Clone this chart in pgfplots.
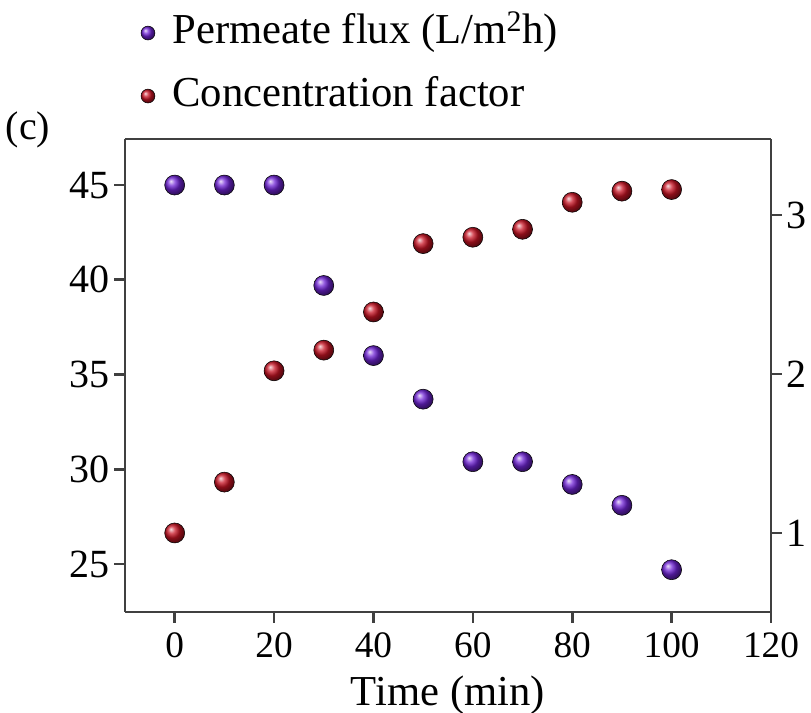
\documentclass[border=0pt]{standalone}
\usepackage{fontspec}
\setmainfont{Liberation Serif}
\usepackage{pgfplots}
\pgfplotsset{compat=1.18}
\usetikzlibrary{shadings}

\definecolor{fluxc}{RGB}{112,36,214}
\definecolor{cfc}{RGB}{200,20,36}

\newcommand{\yfont}{\fontsize{30}{35}\selectfont}
\newcommand{\xfont}{\fontsize{28}{33}\selectfont}
\newcommand{\lfont}{\fontsize{32}{38}\selectfont}

\pgfplotsset{
  common/.style={
    scale only axis,
    width=484.5pt, height=354.75pt,
    xmin=-10, xmax=120,
    clip=false,
    separate axis lines,
    every outer x axis line/.append style={draw=darkgray, line width=1.8pt},
    every outer y axis line/.append style={draw=darkgray, line width=1.8pt},
    xtick style={draw=darkgray, line width=2pt},
    ytick style={draw=darkgray, line width=2pt},
    major tick length=8pt,
    tick align=outside,
    yticklabel style={font=\yfont},
    xticklabel style={font=\xfont, yshift=-4pt},
    xlabel style={yshift=-7pt},
    label style={font=\lfont},
    /pgf/number format/assume math mode=true,
  },
}

\begin{document}
\begin{tikzpicture}
\useasboundingbox (-93.75pt,-75.75pt) rectangle (514.5pt,459pt);

% left axis: permeate flux, time axis along the bottom
\begin{axis}[common,
    ymin=22.47, ymax=47.43,
    axis x line*=bottom, axis y line*=left,
    xtick={0,20,...,120},
    ytick={25,30,...,45},
    xlabel={Time (min)},
    legend style={at={(rel axis cs:0.0178,1.0437)}, anchor=south west,
      draw=none, fill=none, font=\lfont, row sep=18.25pt,
      nodes={text height=22pt, text depth=7pt, inner sep=0pt},
      /tikz/every odd column/.append style={column sep=13pt}},
    legend cell align=left,
  ]
  \addlegendimage{only marks, mark=ball, mark size=5.2pt, mark options={ball color=fluxc}}
  \addlegendentry{Permeate flux (L/m\textsuperscript{2}h)}
  \addlegendimage{only marks, mark=ball, mark size=5.2pt, mark options={ball color=cfc}}
  \addlegendentry{Concentration factor}

  \addplot[only marks, mark=ball, mark size=7.5pt, mark options={ball color=fluxc}]
    coordinates {(0,45) (10,45) (20,45) (30,39.7) (40,36) (50,33.7)
                 (60,30.4) (70,30.4) (80,29.2) (90,28.1) (100,24.7)};

  \node[font=\yfont] at (rel axis cs:-0.150,1.019) {(c)};
\end{axis}

% right axis: concentration factor, plain frame line along the top
\begin{axis}[common,
    ymin=0.503, ymax=3.478,
    axis y line*=right, axis x line*=top,
    xtick=\empty,
    ytick={1,2,3},
  ]
  \addplot[only marks, mark=ball, mark size=7.5pt, mark options={ball color=cfc}]
    coordinates {(0,1.0) (10,1.32) (20,2.02) (30,2.15) (40,2.39) (50,2.82)
                 (60,2.86) (70,2.91) (80,3.08) (90,3.15) (100,3.16)};
\end{axis}
\end{tikzpicture}
\end{document}
